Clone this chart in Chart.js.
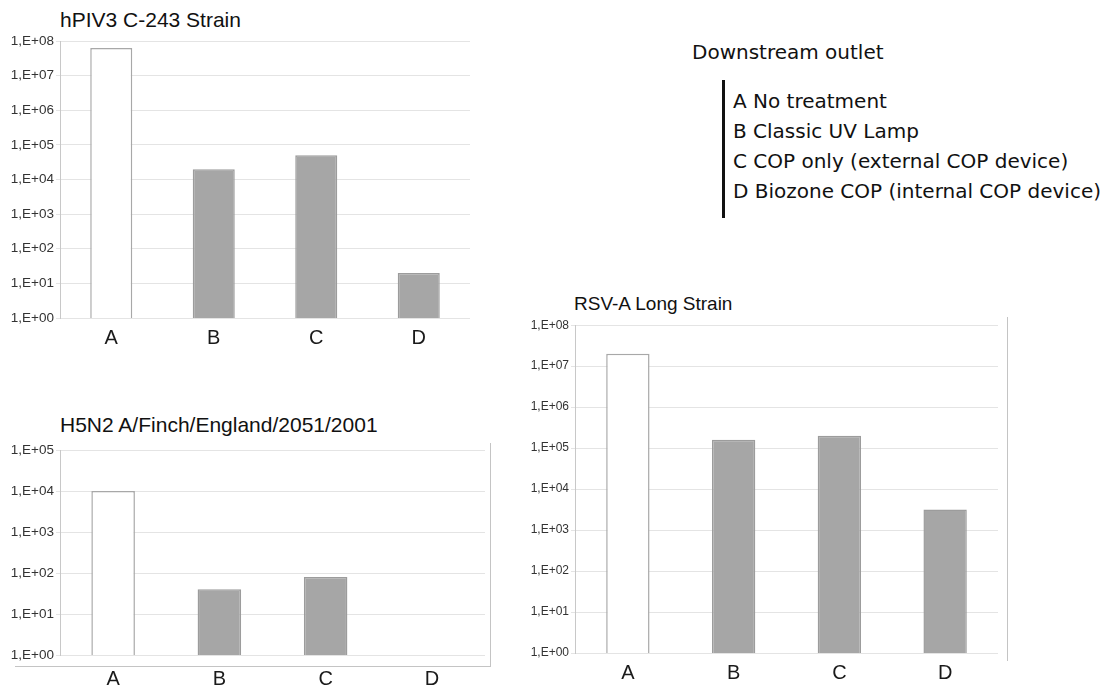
<!DOCTYPE html>
<html>
<head>
<meta charset="utf-8">
<script src="https://cdn.jsdelivr.net/npm/chart.js@4/dist/chart.umd.min.js"></script>
<style>
  body { margin: 0; background: #fff; width: 1109px; height: 687px; position: relative; overflow: hidden; font-family: "Liberation Sans", Arial, sans-serif; }
  .box { position: absolute; }
  .title { position: absolute; font-size: 21px; color: #111; white-space: nowrap; }
  .frame { position: absolute; border-right: 1px solid #c4c4c4; border-bottom: 1px solid #c4c4c4; }
  #legend { position: absolute; left: 692px; top: 40px; font-family: "DejaVu Sans", sans-serif; font-size: 20px; color: #111; }
  #legend .head { margin-bottom: 16px; white-space: nowrap; }
  #legend .list { border-left: 3px solid #111; margin-left: 30px; padding: 6px 0 12px 8px; }
  #legend .list div { height: 30px; line-height: 30px; white-space: nowrap; }
</style>
</head>
<body>

<div class="title" style="left:60px; top:8px;">hPIV3 C-243 Strain</div>
<div class="box" style="left:0px; top:31px; width:470px; height:330px;"><canvas id="c1"></canvas></div>

<div class="frame" style="left:15px; top:443px; width:475px; height:223px;"></div>
<div class="title" style="left:60px; top:413px;">H5N2 A/Finch/England/2051/2001</div>
<div class="box" style="left:0px; top:440px; width:485px; height:247px;"><canvas id="c2"></canvas></div>

<div class="frame" style="left:515px; top:317px; width:492px; height:344px; border-bottom:none;"></div>
<div class="title" style="left:574px; top:293px; font-size:19px;">RSV-A Long Strain</div>
<div class="box" style="left:515px; top:316px; width:483px; height:371px;"><canvas id="c3"></canvas></div>

<div id="legend">
  <div class="head" id="legendHead"></div>
  <div class="list" id="legendList"></div>
</div>

<script>
var categories = ['A', 'B', 'C', 'D'];
var hpiv3Values = [6.3e7, 2e4, 5e4, 20];
var h5n2Values = [1e4, 40, 80, null];
var rsvValues = [2e7, 1.6e5, 2e5, 3.2e3];

var legendTitle = 'Downstream outlet';
var legendLabels = [
    'A No treatment',
    'B Classic UV Lamp',
    'C COP only (external COP device)',
    'D Biozone COP (internal COP device)'
];

var barFill = ['#ffffff', '#a6a6a6', '#a6a6a6', '#a6a6a6'];
var barEdge = ['#a8a8a8', '#9c9c9c', '#9c9c9c', '#9c9c9c'];

document.getElementById('legendHead').textContent = legendTitle;
var list = document.getElementById('legendList');
for (var i in legendLabels) {
    var d = document.createElement('div');
    d.textContent = legendLabels[i];
    list.appendChild(d);
}

function makeChart(id, values, maxExp, tickSize, xAxisHeight, labelPad) {
    var yTicks = [];
    for (var e = 0; e <= maxExp; e++) {
        yTicks.push(Math.pow(10, e));
    }
    var ctx = document.getElementById(id);
    return new Chart(ctx, {
        type: 'bar',
        data: {
            labels: categories,
            datasets: [{
                data: values,
                backgroundColor: barFill,
                borderColor: barEdge,
                borderWidth: 1.5,
                barPercentage: 0.41,
                categoryPercentage: 1
            }]
        },
        options: {
            responsive: true,
            maintainAspectRatio: false,
            animation: false,
            layout: { padding: { top: 8, right: 0, left: 0, bottom: 0 } },
            plugins: { legend: { display: false }, tooltip: { enabled: false } },
            scales: {
                x: {
                    grid: { display: false },
                    border: { display: false },
                    ticks: {
                        color: '#1a1a1a',
                        padding: labelPad,
                        font: { family: 'Liberation Sans', size: 20 }
                    },
                    afterFit: function (scale) { scale.height = xAxisHeight; }
                },
                y: {
                    type: 'logarithmic',
                    min: 1,
                    max: Math.pow(10, maxExp),
                    afterBuildTicks: function (scale) {
                        scale.ticks = yTicks.map(function (v) { return { value: v }; });
                    },
                    afterFit: function (scale) { scale.width = 60; },
                    grid: { color: '#e4e4e4', tickLength: 4 },
                    border: { color: '#c8c8c8' },
                    ticks: {
                        color: '#333',
                        padding: 2,
                        autoSkip: false,
                        font: { family: 'Liberation Sans', size: tickSize },
                        callback: function (v) {
                            var exp = Math.round(Math.log10(v));
                            return '1,E+' + (exp < 10 ? '0' : '') + exp;
                        }
                    }
                }
            }
        }
    });
}

makeChart('c1', hpiv3Values, 8, 13.5, 43, 0);
makeChart('c2', h5n2Values, 5, 13.5, 32, 4);
makeChart('c3', rsvValues, 8, 12, 34, 0);
</script>
</body>
</html>
